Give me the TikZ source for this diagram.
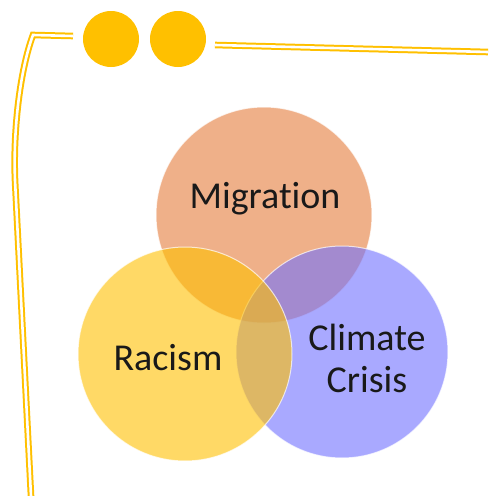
\documentclass[tikz,border=0pt]{standalone}
\usepackage{fontspec}
\setmainfont{Carlito}[Ligatures=NoCommon]
\definecolor{gold}{HTML}{FFC000}
\definecolor{migfill}{HTML}{E57B3A}
\definecolor{racfill}{HTML}{FFC000}
\definecolor{climfill}{HTML}{7070FF}

\begin{document}
\begin{tikzpicture}[x=1pt,y=-1pt,
	rail/.style={draw=gold,double=white,double distance=2.6pt,line width=2pt},
	blob/.style={fill opacity=0.6,draw=white,draw opacity=0.7,line width=1pt},
	lbl/.style={text=black!90,font=\fontsize{38}{42}\selectfont,align=center}]
	
	\useasboundingbox (0,0) rectangle (488,496);
	
	% frame
	\coordinate (lt) at (73,36);
	\coordinate (rt) at (215,45);
	\coordinate (re) at (488,52);
	\coordinate (bt) at (31,496);
	\draw [rail] (lt) -- (33,35) .. controls (20,70) and (13,130) .. (15,180) -- (bt);
	\draw [rail] (rt) -- (re);
	
	\foreach \x in {111,178} {
		\fill [gold] (\x,39) circle [radius=28pt];
	}
	
	% venn
	\filldraw [blob,fill=migfill] (264,215) circle [radius=108pt];
	\filldraw [blob,fill=climfill] (342,352) circle [radius=106pt];
	\filldraw [blob,fill=racfill] (185,354) circle [radius=107pt];
	
	\node [lbl,anchor=base] (migration) at (265,208) {Migration};
	\node [lbl,anchor=base] (racism) at (168,370) {Racism};
	\node [lbl,anchor=base] (climate) at (367,392) {Climate\\Crisis};
	
\end{tikzpicture}
\end{document}
